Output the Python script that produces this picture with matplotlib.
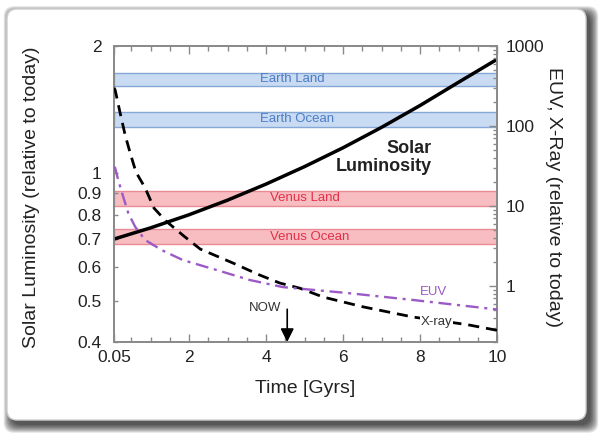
import matplotlib
matplotlib.use("Agg")
import matplotlib.pyplot as plt
from matplotlib.patches import FancyBboxPatch
from matplotlib.ticker import FixedLocator, LogLocator, NullFormatter, NullLocator

plt.rcParams["font.family"] = ["Liberation Sans", "DejaVu Sans"]

# --- solar luminosity (left axis, relative to today) ---
lum_time = [0.05, 1, 2, 3, 4, 5, 6, 7, 8, 9, 10]
lum = [0.700, 0.744, 0.799, 0.865, 0.944, 1.038, 1.150, 1.285, 1.447, 1.642, 1.86]

# --- X-ray and EUV flux (right axis, relative to today) ---
xray_time = [0.05, 0.08, 0.21, 0.34, 0.47, 0.62, 0.86, 1.09, 1.40, 1.87, 2.29,
             3.14, 3.84, 4.36, 4.88, 5.48, 6.52, 7.82, 9.22, 10.0]
xray = [300, 282, 145, 77, 46, 26.6, 16.8, 9.4, 6.5, 4.2, 2.9,
        1.94, 1.37, 1.09, 0.94, 0.73, 0.55, 0.41, 0.33, 0.28]
euv_time = [0.05, 0.08, 0.16, 0.26, 0.42, 0.60, 0.86, 1.30, 1.84, 2.73, 3.58,
            4.44, 6.10, 7.82, 10.0]
euv = [31, 29.9, 21.1, 14.5, 8.2, 5.5, 3.76, 2.8, 2.11, 1.58, 1.19,
       0.97, 0.82, 0.67, 0.51]

# --- habitability zones (solar luminosity range) ---
zone_names = ["Earth Land", "Earth Ocean", "Venus Land", "Venus Ocean"]
zone_low = [1.61, 1.29, 0.84, 0.68]
zone_high = [1.73, 1.40, 0.91, 0.74]
zone_label_x = [3.84, 3.84, 4.10, 4.10]

x_ticks = [0.05, 2, 4, 6, 8, 10]
x_ticklabels = ["0.05", "2", "4", "6", "8", "10"]
lum_ticks = [0.4, 0.5, 0.6, 0.7, 0.8, 0.9, 1, 2]
lum_ticklabels = ["0.4", "0.5", "0.6", "0.7", "0.8", "0.9", "1", "2"]
ray_ticks = [1, 10, 100, 1000]
ray_ticklabels = ["1", "10", "100", "1000"]
now_gyr = 4.55

BLUE_FILL = "#c9dbf2"
BLUE_EDGE = "#86a8d8"
BLUE_TEXT = "#4d7cc4"
RED_FILL = "#f7bdc1"
RED_EDGE = "#e88b95"
RED_TEXT = "#e2304a"
PURPLE = "#9b5ac6"
SPINE = "#8a8a8a"
TEXT = "#222222"

fig = plt.figure(figsize=(5.99, 4.36), dpi=100)
fig.patch.set_facecolor("white")

# card with soft drop shadow
card_x, card_y, card_w, card_h = 0.07, 0.16, 5.79, 4.11
for i in range(8):
    grow = 0.011 * i
    shadow = FancyBboxPatch(
        (card_x + 0.045 - grow, card_y - 0.05 - grow), card_w + 2 * grow, card_h + 2 * grow,
        boxstyle="round,pad=0,rounding_size=0.1",
        transform=fig.dpi_scale_trans, facecolor="black", edgecolor="none",
        alpha=0.12, zorder=-20,
    )
    fig.add_artist(shadow)
card = FancyBboxPatch(
    (card_x, card_y), card_w, card_h,
    boxstyle="round,pad=0,rounding_size=0.1",
    transform=fig.dpi_scale_trans, facecolor="white", edgecolor="#cfcfcf",
    linewidth=1.0, zorder=-10,
)
fig.add_artist(card)

ax = fig.add_axes([114 / 599, 94 / 436, 383 / 599, 296 / 436])
ax.set_facecolor("none")
ax.set_yscale("log")
ax.set_xlim(0.05, 10)
ax.set_ylim(0.4, 2)

# zone bands
for name, lo, hi, lx in zip(zone_names, zone_low, zone_high, zone_label_x):
    earth = name.startswith("Earth")
    ax.axhspan(lo, hi, facecolor=BLUE_FILL if earth else RED_FILL,
               edgecolor=BLUE_EDGE if earth else RED_EDGE, linewidth=1.0, zorder=1)
    ax.text(lx, (lo * hi) ** 0.5, name, color=BLUE_TEXT if earth else RED_TEXT,
            fontsize=9.5, ha="left", va="center", zorder=2)

ax.plot(lum_time, lum, color="black", linewidth=2.5, solid_capstyle="round", zorder=5)
ax.text(8.31, 1.09, "Solar\nLuminosity", fontsize=13, fontweight="bold",
        ha="right", va="center", multialignment="right", linespacing=1.05,
        color=TEXT, zorder=6)

# "NOW" marker
ax.annotate("", xy=(now_gyr, 0.4), xytext=(now_gyr, 0.478),
            arrowprops=dict(arrowstyle="-|>", color="black", lw=1.2,
                            mutation_scale=20, shrinkA=0, shrinkB=0), zorder=6)
ax.text(3.97, 0.481, "NOW", fontsize=9.5, ha="center", va="center", color="#333333")

ax.set_xticks(x_ticks, labels=x_ticklabels)
ax.xaxis.set_minor_locator(FixedLocator([0.5 * k for k in range(1, 20)]))
ax.yaxis.set_major_locator(FixedLocator(lum_ticks))
ax.set_yticklabels(lum_ticklabels)
ax.yaxis.set_minor_locator(NullLocator())
ax.yaxis.set_minor_formatter(NullFormatter())

ax.tick_params(axis="both", which="both", direction="in", color=SPINE, width=1.0,
               labelcolor=TEXT, labelsize=12.5)
ax.tick_params(axis="x", which="both", top=True)
ax.tick_params(axis="x", which="major", length=6, pad=6)
ax.tick_params(axis="x", which="minor", length=3.5)
ax.tick_params(axis="y", which="major", length=3, pad=9)

ax.set_xlabel("Time [Gyrs]", fontsize=14, color=TEXT)
ax.xaxis.set_label_coords(0.5, -0.128)
ax.set_ylabel("Solar Luminosity (relative to today)", fontsize=14, color=TEXT)
ax.yaxis.set_label_coords(-0.193, 0.49)

# right axis: EUV / X-ray
ax2 = ax.twinx()
ax2.set_yscale("log")
ax2.set_ylim(0.2, 1000)
ax2.plot(xray_time, xray, color="black", linewidth=2.0, linestyle=(0, (4, 2.5)), zorder=4)
ax2.plot(euv_time, euv, color=PURPLE, linewidth=1.7, linestyle=(0, (5.5, 2.4, 1.3, 2.4)), zorder=4)
ax2.text(8.35, 0.84, "EUV", fontsize=9.5, color=PURPLE, ha="center", va="center")
ax2.text(8.42, 0.355, "X-ray", fontsize=9.5, color="#333333", ha="center", va="center",
         bbox=dict(facecolor="white", edgecolor="none", pad=0.5), zorder=5)

ax2.yaxis.set_major_locator(FixedLocator(ray_ticks))
ax2.set_yticklabels(ray_ticklabels)
ax2.yaxis.set_minor_locator(LogLocator(base=10, subs=[2, 3, 4, 5, 6, 7, 8, 9]))
ax2.yaxis.set_minor_formatter(NullFormatter())
ax2.tick_params(axis="y", which="both", direction="in", color=SPINE, width=1.0,
                labelcolor=TEXT, labelsize=12.5)
ax2.tick_params(axis="y", which="major", length=6, pad=6)
ax2.tick_params(axis="y", which="minor", length=3)
ax2.set_ylabel("EUV, X-Ray (relative to today)", fontsize=14, color=TEXT, rotation=270)
ax2.yaxis.set_label_coords(1.17, 0.49)

for a in (ax, ax2):
    for sp in a.spines.values():
        sp.set_color(SPINE)
        sp.set_linewidth(1.3)

fig.savefig("out.png", dpi=100)
